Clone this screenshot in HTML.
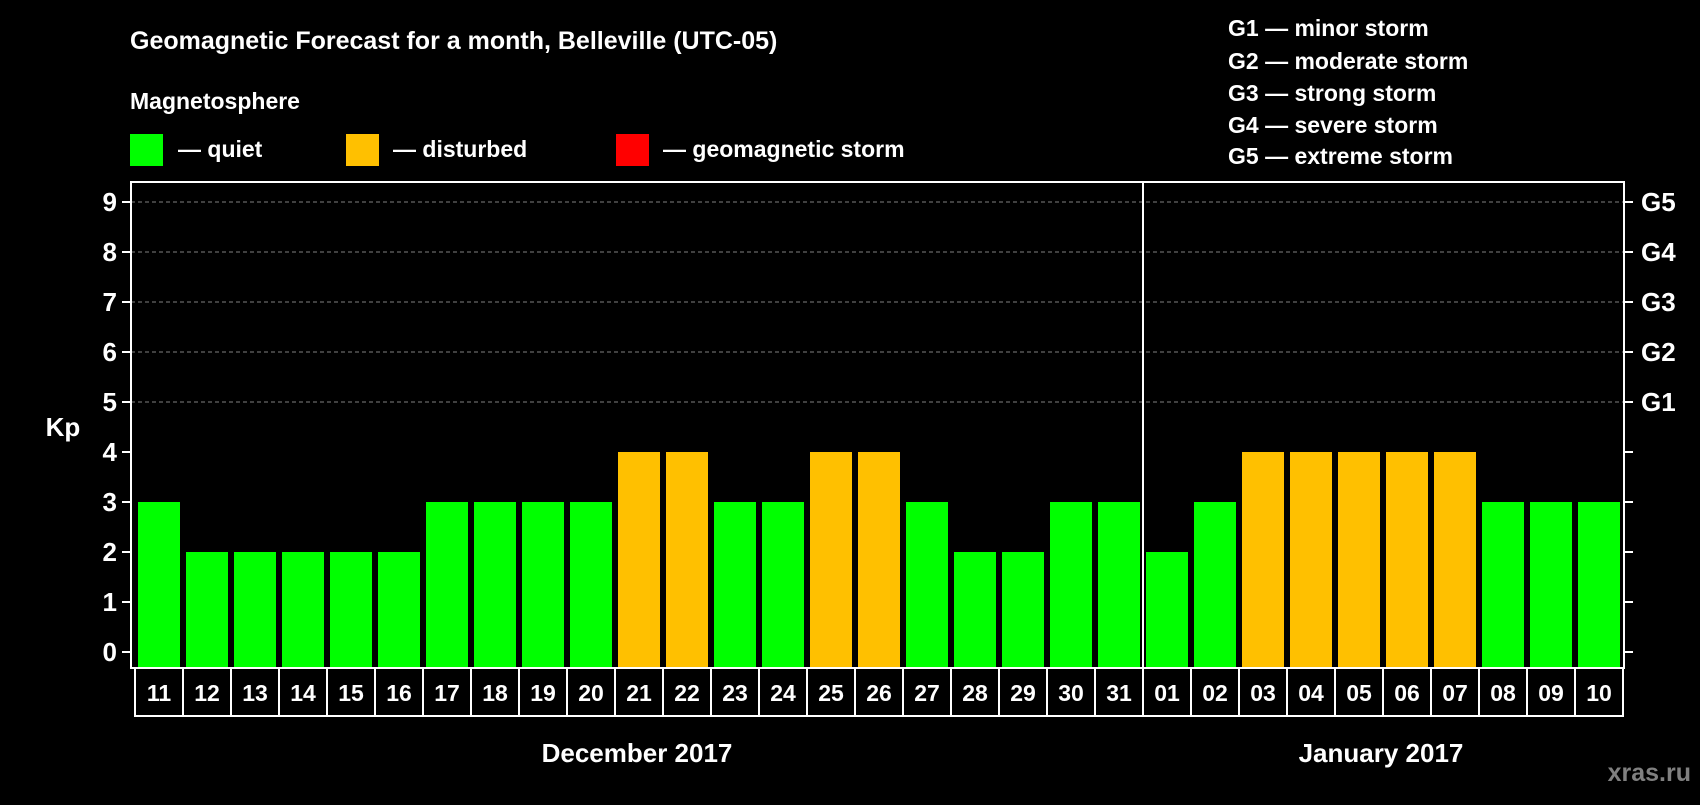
<!DOCTYPE html>
<html><head><meta charset="utf-8"><style>
body{margin:0;background:#000;width:1700px;height:800px;overflow:hidden;font-family:"Liberation Sans",sans-serif;font-weight:bold;color:#fff}
svg text{font-family:"Liberation Sans",sans-serif;font-weight:bold}
</style></head><body>
<svg id="c" width="1700" height="800">
<text x="130" y="49" font-size="25" fill="#fff">Geomagnetic Forecast for a month, Belleville (UTC-05)</text>
<text x="130" y="109" font-size="23" fill="#fff">Magnetosphere</text>
<rect x="130" y="134" width="33" height="32" fill="#00ff00"/>
<text x="178" y="157" font-size="23" fill="#fff">— quiet</text>
<rect x="346" y="134" width="33" height="32" fill="#ffc000"/>
<text x="393" y="157" font-size="23" fill="#fff">— disturbed</text>
<rect x="616" y="134" width="33" height="32" fill="#ff0000"/>
<text x="663" y="157" font-size="23" fill="#fff">— geomagnetic storm</text>
<g font-size="23" fill="#fff">
<text x="1228" y="36">G1 — minor storm</text>
<text x="1228" y="69">G2 — moderate storm</text>
<text x="1228" y="101">G3 — strong storm</text>
<text x="1228" y="133">G4 — severe storm</text>
<text x="1228" y="164">G5 — extreme storm</text>
</g>
<text x="63" y="436" font-size="26" fill="#fff" text-anchor="middle">Kp</text>
<g id="plot"></g>
<text x="637" y="762" font-size="26" fill="#fff" text-anchor="middle">December 2017</text>
<text x="1381" y="762" font-size="26" fill="#fff" text-anchor="middle">January 2017</text>
<text x="1691" y="781" font-size="25" fill="#808080" text-anchor="end">xras.ru</text>
</svg>
<script>
const days=["11","12","13","14","15","16","17","18","19","20","21","22","23","24","25","26","27","28","29","30","31","01","02","03","04","05","06","07","08","09","10"];
const kp=[3,2,2,2,2,2,3,3,3,3,4,4,3,3,4,4,3,2,2,3,3,2,3,4,4,4,4,4,3,3,3];
const yTicks=[0,1,2,3,4,5,6,7,8,9];
const gLabels=["G1","G2","G3","G4","G5"];
const monthSplit=21;
const NS="http://www.w3.org/2000/svg";
const g=document.getElementById('plot');
const L=131,R=1624,T=182,B=668,x0=135,pitch=48;
const y=v=>652-v*50;
const x=i=>x0+i*pitch;
function mk(t,a){const e=document.createElementNS(NS,t);for(const k in a)e.setAttribute(k,a[k]);g.appendChild(e);return e;}
yTicks.forEach(v=>{
  if(v>=5){const l=mk('line',{x1:L,x2:R,y1:y(v),y2:y(v),stroke:'#808080','stroke-dasharray':'4,3','stroke-width':1});
  
  }
  const t1=mk('line',{x1:122,x2:L,y1:y(v),y2:y(v),stroke:'#fff','stroke-width':2});
  
  
  const t2=mk('line',{x1:R,x2:1633,y1:y(v),y2:y(v),stroke:'#fff','stroke-width':2});
  
  
  const tl=mk('text',{x:117,y:y(v)+9,'font-size':26,fill:'#fff','text-anchor':'end'});tl.textContent=v;
  
  
  if(v>=5){const gl=mk('text',{x:1641,y:y(v)+9,'font-size':26,fill:'#fff'});gl.textContent=gLabels[v-5];
  
  }
});
kp.forEach((v,i)=>{
  const col=v>=5?'#ff0000':(v>=4?'#ffc000':'#00ff00');
  const b=mk('rect',{x:x(i)+3,y:y(v),width:42,height:B-y(v),fill:col});
  
  
  const c=mk('rect',{x:x(i),y:B,width:pitch,height:48,fill:'none',stroke:'#fff','stroke-width':2});
  
  
  const t=mk('text',{x:x(i)+pitch/2,y:B+33,'font-size':23,fill:'#fff','text-anchor':'middle'});t.textContent=days[i];
  
  
});
const f=mk('rect',{x:L,y:T,width:R-L,height:B-T,fill:'none',stroke:'#fff','stroke-width':2});


const d=mk('line',{x1:x(monthSplit),x2:x(monthSplit),y1:T,y2:B+48,stroke:'#fff','stroke-width':2});


</script>
</body></html>
